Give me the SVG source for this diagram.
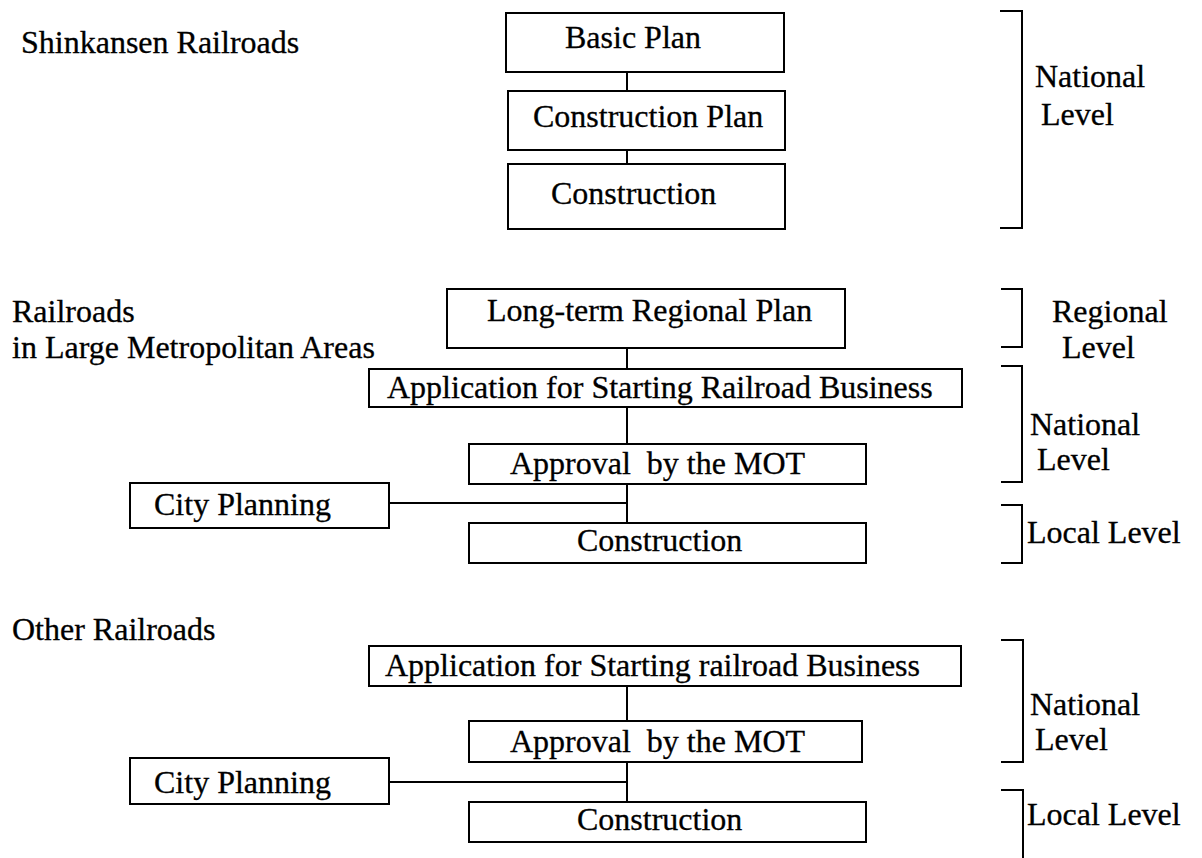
<svg xmlns="http://www.w3.org/2000/svg" width="1202" height="858" viewBox="0 0 1202 858">
  <style>
    .box { fill: #ffffff; stroke: #000000; stroke-width: 2; }
    .line { fill: none; stroke: #000000; stroke-width: 2; }
    .lbl { font-family: "Liberation Serif", "Times New Roman", serif; font-size: 32px; fill: #000000; stroke: #000000; stroke-width: 0.3; white-space: pre; }
  </style>
  <rect width="1202" height="858" fill="#ffffff"/>

  <!-- section titles -->
  <g id="titles">
    <text class="lbl" x="21" y="53">Shinkansen Railroads</text>
    <text class="lbl" x="12" y="322">Railroads</text>
    <text class="lbl" x="12" y="358">in Large Metropolitan Areas</text>
    <text class="lbl" x="12" y="640">Other Railroads</text>
  </g>

  <!-- connectors -->
  <g id="connectors">
    <line class="line" x1="627" y1="72" x2="627" y2="91"/>
    <line class="line" x1="627" y1="150" x2="627" y2="164"/>
    <line class="line" x1="627" y1="348" x2="627" y2="369"/>
    <line class="line" x1="627" y1="407" x2="627" y2="444"/>
    <line class="line" x1="627" y1="484" x2="627" y2="523"/>
    <line class="line" x1="389" y1="503" x2="627" y2="503"/>
    <line class="line" x1="627" y1="686" x2="627" y2="721"/>
    <line class="line" x1="627" y1="762" x2="627" y2="802"/>
    <line class="line" x1="389" y1="782" x2="627" y2="782"/>
  </g>

  <!-- Shinkansen nodes -->
  <g id="basic-plan">
    <rect class="box" x="506" y="13" width="278" height="59"/>
    <text class="lbl" x="565" y="48">Basic Plan</text>
  </g>
  <g id="construction-plan">
    <rect class="box" x="508" y="91" width="277" height="59"/>
    <text class="lbl" x="533" y="127">Construction Plan</text>
  </g>
  <g id="construction-1">
    <rect class="box" x="508" y="164" width="277" height="65"/>
    <text class="lbl" x="551" y="204">Construction</text>
  </g>

  <!-- Metropolitan nodes -->
  <g id="long-term-plan">
    <rect class="box" x="447" y="289" width="398" height="59"/>
    <text class="lbl" x="487" y="321">Long-term Regional Plan</text>
  </g>
  <g id="application-2">
    <rect class="box" x="369" y="369" width="593" height="38"/>
    <text class="lbl" x="387" y="398">Application for Starting Railroad Business</text>
  </g>
  <g id="approval-2">
    <rect class="box" x="469" y="444" width="397" height="40"/>
    <text class="lbl" x="510" y="474" xml:space="preserve">Approval  by the MOT</text>
  </g>
  <g id="city-planning-2">
    <rect class="box" x="130" y="483" width="259" height="45"/>
    <text class="lbl" x="154" y="515">City Planning</text>
  </g>
  <g id="construction-2">
    <rect class="box" x="469" y="523" width="397" height="40"/>
    <text class="lbl" x="577" y="551">Construction</text>
  </g>

  <!-- Other railroads nodes -->
  <g id="application-3">
    <rect class="box" x="369" y="646" width="592" height="40"/>
    <text class="lbl" x="385" y="676">Application for Starting railroad Business</text>
  </g>
  <g id="approval-3">
    <rect class="box" x="469" y="721" width="393" height="41"/>
    <text class="lbl" x="510" y="752" xml:space="preserve">Approval  by the MOT</text>
  </g>
  <g id="city-planning-3">
    <rect class="box" x="130" y="758" width="259" height="46"/>
    <text class="lbl" x="154" y="793">City Planning</text>
  </g>
  <g id="construction-3">
    <rect class="box" x="469" y="802" width="397" height="40"/>
    <text class="lbl" x="577" y="830">Construction</text>
  </g>

  <!-- level brackets -->
  <g id="level-national-1">
    <path class="line" d="M1000 11 H1022 V228 H1000"/>
    <text class="lbl" x="1035" y="87">National</text>
    <text class="lbl" x="1041" y="125">Level</text>
  </g>
  <g id="level-regional-2">
    <path class="line" d="M1001 289 H1022 V347 H1001"/>
    <text class="lbl" x="1052" y="322">Regional</text>
    <text class="lbl" x="1062" y="358">Level</text>
  </g>
  <g id="level-national-2">
    <path class="line" d="M1001 366 H1022 V482 H1001"/>
    <text class="lbl" x="1030" y="435">National</text>
    <text class="lbl" x="1037" y="470">Level</text>
  </g>
  <g id="level-local-2">
    <path class="line" d="M1001 505 H1022 V563 H1001"/>
    <text class="lbl" x="1027" y="543">Local Level</text>
  </g>
  <g id="level-national-3">
    <path class="line" d="M1001 640 H1023 V762 H1001"/>
    <text class="lbl" x="1030" y="715">National</text>
    <text class="lbl" x="1035" y="750">Level</text>
  </g>
  <g id="level-local-3">
    <path class="line" d="M1001 790 H1023 V858"/>
    <text class="lbl" x="1027" y="825">Local Level</text>
  </g>
</svg>
